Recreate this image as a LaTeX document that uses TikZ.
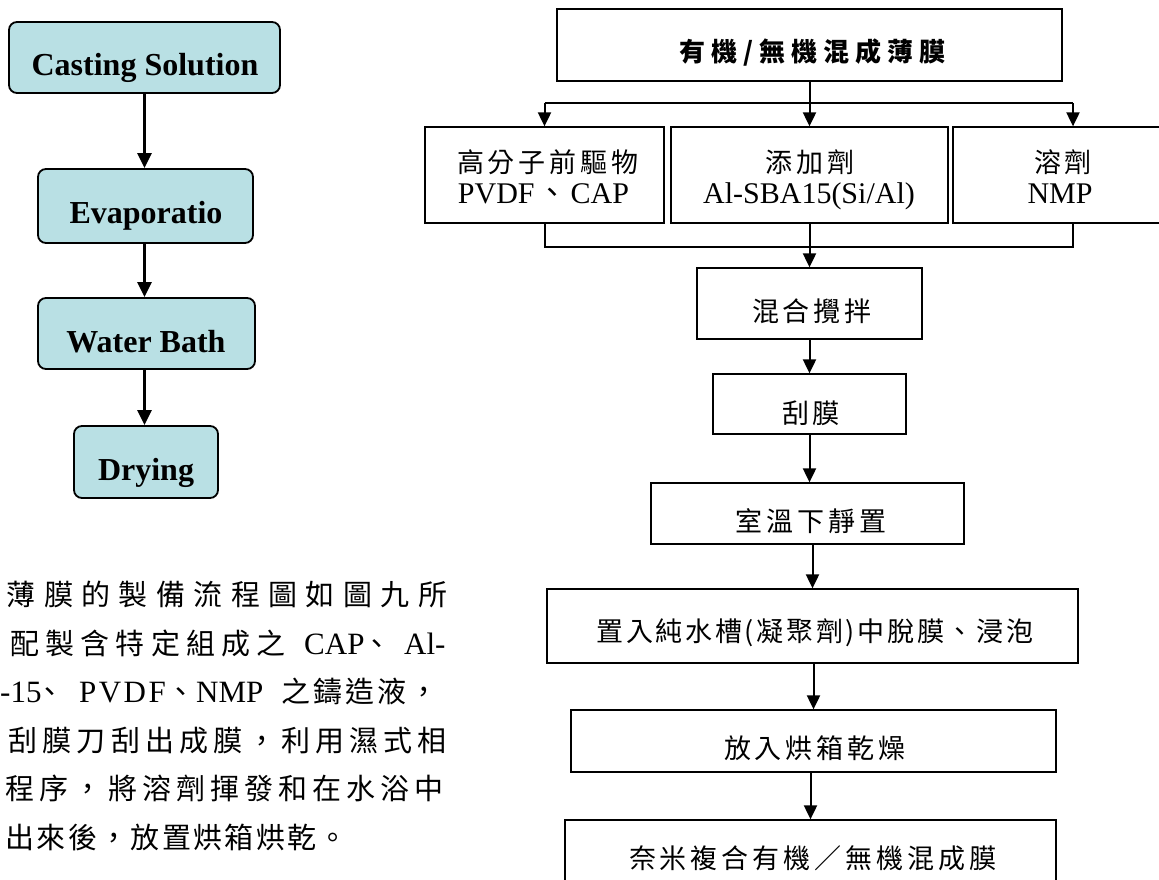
\documentclass[tikz,border=0pt]{standalone}
\usepackage{fontspec}
\setmainfont{Liberation Serif}
\newfontfamily\cjk{Noto Sans CJK TC}
\usetikzlibrary{arrows.meta,calc}
\definecolor{lcyan}{RGB}{185,224,228}
\newcommand\putx[2]{\rlap{\hspace*{#1pt}#2}}
\newcommand\ft[1]{{\cjk\addfontfeature{LetterSpace=14.8}#1\kern-.148em}}
\newcommand\lat[1]{{\fontsize{31}{31}\selectfont #1}}
\newcommand\lsp[2]{{\cjk\addfontfeature{LetterSpace=#1}#2}}
\begin{document}
\begin{tikzpicture}[x=1pt,y=-1pt,
 lbox/.style={draw, line width=1.8pt, rounded corners=8pt, fill=lcyan, inner sep=0pt},
 rbox/.style={draw, line width=1.3pt, inner sep=0pt},
 ltxt/.style={anchor=base, inner sep=0pt, font=\fontsize{32}{32}\selectfont\bfseries},
 rtxt/.style={anchor=base, inner sep=0pt, font=\fontsize{27}{27}\selectfont},
 rlat/.style={anchor=base, inner sep=0pt, font=\fontsize{30}{30}\selectfont},
 ptxt/.style={anchor=base west, inner sep=0pt, font=\fontsize{29}{29}\selectfont},
 larr/.style={line width=2.4pt, -{Triangle[length=15pt,width=14pt]}},
 rarr/.style={line width=2pt, -{Triangle[length=14pt,width=13pt]}},
 rline/.style={line width=2pt, line join=miter}]
\useasboundingbox (0,0) rectangle (1159,879);
\clip (0,0) rectangle (1159,879);
\fill[white] (0,0) rectangle (1159,879);

% ---------- left flow ----------
\node[lbox, minimum width=271pt, minimum height=71pt] (cs) at (144.5,57.5) {};
\node[ltxt] (cst) at (145,75) {Casting Solution};
\node[lbox, minimum width=215pt, minimum height=74pt] (ev) at (145.5,206) {};
\node[ltxt] (evt) at (146,223) {Evaporatio};
\node[lbox, minimum width=217pt, minimum height=71pt] (wb) at (146.5,333.5) {};
\node[ltxt] (wbt) at (146,352) {Water Bath};
\node[lbox, minimum width=144pt, minimum height=72pt] (dr) at (146,462) {};
\node[ltxt] (drt) at (146,480) {Drying};
\draw[larr] (cs.south) -- (cs.south |- ev.north);
\draw[larr] (ev.south -| cs.south) -- (cs.south |- wb.north);
\draw[larr] (wb.south -| cs.south) -- (cs.south |- dr.north);

% ---------- paragraph ----------
\node[ptxt] (p1) at (0,605.6) {\putx{6.5}{\lsp{29}{薄膜的製備流程圖如圖九所}}\hspace*{450pt}};
\node[ptxt] (p2) at (0,654) {\putx{10.5}{\lsp{21}{配製含特定組成之}}\putx{304}{\lat{CAP}}\putx{362}{\lsp{0}{、}}\putx{404}{\lat{Al-}}\hspace*{450pt}};
\node[ptxt] (p3) at (0,702.6) {\putx{0}{\lat{-15}}\putx{35}{\lsp{0}{、}}\putx{79}{\lat{\addfontfeature{LetterSpace=8}PVDF}}\putx{166}{\lsp{0}{、}}\putx{196}{\lat{NMP}}\putx{281.5}{\lsp{10.3}{之鑄造液，}}\hspace*{450pt}};
\node[ptxt] (p4) at (0,751) {\putx{8.5}{\lsp{17.6}{刮膜刀刮出成膜，利用濕式相}}\hspace*{450pt}};
\node[ptxt] (p5) at (0,799.6) {\putx{5.5}{\lsp{17.6}{程序，將溶劑揮發和在水浴中}}\hspace*{450pt}};
\node[ptxt] (p6) at (0,848) {\putx{5.5}{\lsp{7.9}{出來後，放置烘箱烘乾。}}\hspace*{450pt}};

% ---------- right flow ----------
\node[rbox, minimum width=505pt, minimum height=72pt] (top) at (809.5,45) {};
\node[rtxt] (topt) at (809.5,61) {{\fontsize{26}{26}\selectfont\cjk\bfseries\addfontfeature{LetterSpace=23}有機/無機混成薄膜\kern-.23em}};

\node[rbox, minimum width=239pt, minimum height=96pt] (b1) at (544.5,175) {};
\node[rbox, minimum width=277pt, minimum height=96pt] (b2) at (809.5,175) {};
\node[rbox, minimum width=216pt, minimum height=96pt] (b3) at (1061,175) {};
\node[rtxt] (b1a) at (546,172.5) {\ft{高分子前驅物}};
\node[rlat] (b1b) at (543.5,203) {PVDF\hspace{3pt}{\cjk 、}\hspace{3pt}CAP};
\node[rtxt] (b2a) at (808,172.5) {\ft{添加劑}};
\node[rlat] (b2b) at (809,203) {Al-SBA15(Si/Al)};
\node[rtxt] (b3a) at (1061,172.5) {\ft{溶劑}};
\node[rlat] (b3b) at (1060,203) {NMP};

\node[rbox, minimum width=225pt, minimum height=71pt] (mix) at (809.5,303.5) {};
\node[rtxt] (mixt) at (810,321.5) {\ft{混合攪拌}};
\node[rbox, minimum width=193pt, minimum height=60pt] (gua) at (809.5,404) {};
\node[rtxt] (guat) at (809,423.5) {\ft{刮膜}};
\node[rbox, minimum width=313pt, minimum height=61pt] (room) at (807.5,513.5) {};
\node[rtxt] (roomt) at (809,531.5) {\ft{室溫下靜置}};
\node[rbox, minimum width=531pt, minimum height=74pt] (imm) at (812.5,626) {};
\node[rtxt] (immt) at (813.5,641.5) {{\cjk\addfontfeature{LetterSpace=10}置入純水槽(凝聚劑)中脫膜、浸泡\kern-.1em}};
\node[rbox, minimum width=485pt, minimum height=62pt] (oven) at (813.5,741) {};
\node[rtxt] (ovent) at (813,758.5) {\ft{放入烘箱乾燥}};
\node[rbox, minimum width=491pt, minimum height=76pt] (fin) at (810.5,858) {};
\node[rtxt] (fint) at (811,868.5) {\ft{奈米複合有機／無機混成膜}};

% connectors
\coordinate (brL) at (544.5,103);
\coordinate (brR) at (1073,103);
\coordinate (jL) at (544.5,247);
\coordinate (jR) at (1073,247);
\draw[rline] (top.south) -- (top.south |- brL);
\draw[rline] (brL) -- (brR);
\draw[rarr] (brL) -- (brL |- b1.north);
\draw[rarr] (top.south |- brL) -- (b2.north);
\draw[rarr] (brR) -- (brR |- b3.north);
\draw[rline] (b1.south) -- (jL) -- (jR) -- (jR |- b3.south);
\draw[rarr] (b2.south) -- (mix.north);
\draw[rarr] (mix.south) -- (mix.south |- gua.north);
\draw[rarr] (gua.south) -- (gua.south |- room.north);
\draw[rarr] (imm.north |- room.south) -- (imm.north);
\draw[rarr] (oven.north |- imm.south) -- (oven.north);
\draw[rarr] (fin.north |- oven.south) -- (fin.north);
\end{tikzpicture}
\end{document}
